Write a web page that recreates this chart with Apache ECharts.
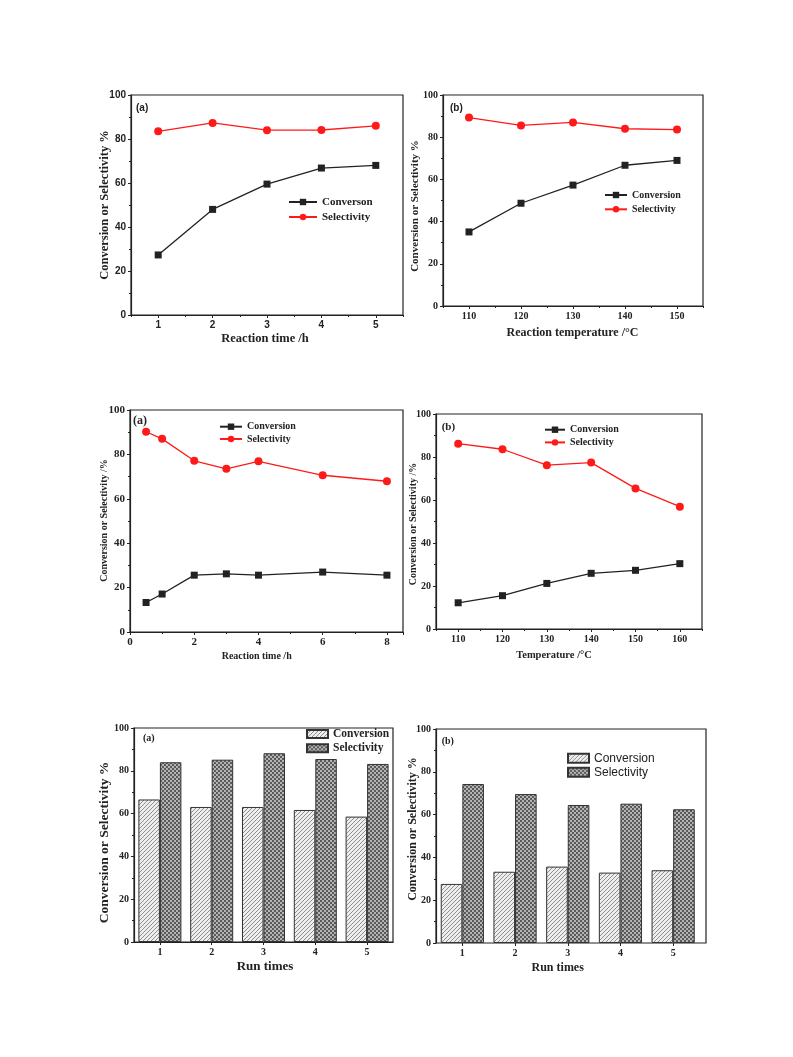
<!DOCTYPE html>
<html><head><meta charset="utf-8">
<script src="https://cdn.jsdelivr.net/npm/echarts@6/dist/echarts.min.js"></script>
<style>html,body{margin:0;padding:0;background:#fff}#c{width:793px;height:1057px}</style>
</head><body><div id="c"></div>
<script>
// ---------- data ----------
const p1Time = ['1', '2', '3', '4', '5'];
const p1Conv = [27.3, 48.0, 59.5, 66.8, 68.0];
const p1Sel = [83.5, 87.3, 84.0, 84.1, 86.0];

const p2Temp = ['110', '120', '130', '140', '150'];
const p2Conv = [35.1, 48.7, 57.3, 66.7, 69.0];
const p2Sel = [89.3, 85.6, 87.0, 84.0, 83.6];

const p3Time = [0.5, 1, 2, 3, 4, 6, 8];
const p3Conv = [13.3, 17.1, 25.6, 26.2, 25.6, 27.0, 25.6];
const p3Sel = [90.2, 87.0, 77.1, 73.5, 76.9, 70.6, 67.9];

const p4Temp = ['110', '120', '130', '140', '150', '160'];
const p4Conv = [12.2, 15.5, 21.2, 25.9, 27.3, 30.4];
const p4Sel = [86.2, 83.6, 76.2, 77.4, 65.4, 56.9];

const runTimes = ['1', '2', '3', '4', '5'];
const p5Conv = [66.6, 63.1, 63.1, 61.7, 58.6];
const p5Sel = [84.0, 85.2, 88.2, 85.5, 83.2];
const p6Conv = [27.6, 33.3, 35.7, 32.9, 34.0];
const p6Sel = [74.3, 69.6, 64.5, 65.1, 62.5];

// ---------- styles ----------
const SERIF = '"Liberation Serif", "Times New Roman", serif';
const SANS = '"Liberation Sans", Arial, sans-serif';
const INK = '#222';
const RED = '#ff1a1a';

function hatchPattern() {
  const c = document.createElement('canvas');
  c.width = 4; c.height = 4;
  const g = c.getContext('2d');
  g.fillStyle = '#eeeeee'; g.fillRect(0, 0, 4, 4);
  g.fillStyle = '#8f8f8f';
  for (let i = 0; i < 4; i++) g.fillRect(3 - i, i, 1, 1);
  return c;
}
function checkPattern() {
  const c = document.createElement('canvas');
  c.width = 4; c.height = 4;
  const g = c.getContext('2d');
  g.fillStyle = '#b4b4b4'; g.fillRect(0, 0, 4, 4);
  g.fillStyle = '#5a5a5a';
  g.fillRect(0, 0, 2, 2); g.fillRect(2, 2, 2, 2);
  return c;
}
const HATCH = { image: hatchPattern(), repeat: 'repeat' };
const CHECK = { image: checkPattern(), repeat: 'repeat' };

const grids = [
  { left: 131, top: 95, width: 272, height: 220 },
  { left: 443, top: 95, width: 260, height: 211 },
  { left: 130, top: 410, width: 273, height: 222 },
  { left: 436, top: 414, width: 266, height: 215 },
  { left: 134, top: 728, width: 259, height: 214 },
  { left: 436, top: 729, width: 263.5, height: 214, show: false },
  { left: 436, top: 729, width: 270, height: 214 }
].map(g => Object.assign({ show: true, borderColor: INK, borderWidth: 1.2, backgroundColor: 'transparent', containLabel: false }, g));

function yAx(gi, font, size) {
  return {
    type: 'value', gridIndex: gi, min: 0, max: 100, interval: 20,
    axisLine: { show: true, lineStyle: { color: INK, width: 1.2 } },
    axisTick: { show: true, length: 3, lineStyle: { color: INK } },
    minorTick: { show: true, splitNumber: 2, length: 2, lineStyle: { color: INK } },
    splitLine: { show: false }, minorSplitLine: { show: false },
    axisLabel: { color: INK, fontFamily: font, fontWeight: 'bold', fontSize: size, margin: 5 }
  };
}
function xCat(gi, cats, font, size, lineShow) {
  return {
    type: 'category', gridIndex: gi, data: cats, boundaryGap: true, position: 'bottom',
    axisLine: { show: lineShow !== false, lineStyle: { color: INK, width: 1.2 } },
    axisTick: { show: true, alignWithLabel: true, length: 3, lineStyle: { color: INK } },
    splitLine: { show: false },
    axisLabel: { color: INK, fontFamily: font, fontWeight: 'bold', fontSize: size, margin: 5 }
  };
}
function xMinor(gi, cats) {
  return {
    type: 'category', gridIndex: gi, data: cats, boundaryGap: true, position: 'bottom',
    axisLine: { show: false }, axisLabel: { show: false }, splitLine: { show: false },
    axisTick: { show: true, alignWithLabel: false, length: 2, lineStyle: { color: INK } }
  };
}

const xAxis = [
  xCat(0, p1Time, SANS, 10),            // 0
  xCat(1, p2Temp, SERIF, 10),           // 1
  {                                     // 2
    type: 'value', gridIndex: 2, min: 0, max: 8.5, interval: 2,
    axisLine: { show: true, lineStyle: { color: INK, width: 1.2 } },
    axisTick: { show: true, length: 3, lineStyle: { color: INK } },
    minorTick: { show: true, splitNumber: 2, length: 2, lineStyle: { color: INK } },
    splitLine: { show: false },
    axisLabel: { color: INK, fontFamily: SERIF, fontWeight: 'bold', fontSize: 11, margin: 5,
      formatter: v => (Math.abs(v % 2) < 1e-9 ? String(v) : '') }
  },
  xCat(3, p4Temp, SERIF, 10),           // 3
  xCat(4, runTimes, SERIF, 10),         // 4
  xCat(5, runTimes, SERIF, 10, false),  // 5
  xMinor(0, p1Time),                    // 6
  xMinor(1, p2Temp),                    // 7
  xMinor(3, p4Temp),                    // 8
  { type: 'value', gridIndex: 6, show: false, min: 0, max: 1 } // 9 frame
];
const yAxis = [
  yAx(0, SANS, 10), yAx(1, SERIF, 10), yAx(2, SERIF, 11), yAx(3, SERIF, 10),
  yAx(4, SERIF, 10), yAx(5, SERIF, 10),
  { type: 'value', gridIndex: 6, show: false, min: 0, max: 1 }
];

function line(name, xi, yi, data, color, symbol, size) {
  return {
    type: 'line', name, xAxisIndex: xi, yAxisIndex: yi, data,
    symbol, symbolSize: size, showSymbol: true,
    lineStyle: { color, width: 1.3 }, itemStyle: { color, borderWidth: 0 },
    emphasis: { disabled: true }, animation: false, z: 3
  };
}
function bar(name, xi, yi, data, pattern, w) {
  return {
    type: 'bar', name, xAxisIndex: xi, yAxisIndex: yi, data,
    barWidth: w, barGap: '0%',
    itemStyle: { color: pattern, borderColor: '#333', borderWidth: 1 },
    emphasis: { disabled: true }, animation: false
  };
}

const series = [
  line('Converson|1', 0, 0, p1Conv, INK, 'rect', 7),
  line('Selectivity|1', 0, 0, p1Sel, RED, 'circle', 8),
  line('Conversion|2', 1, 1, p2Conv, INK, 'rect', 7),
  line('Selectivity|2', 1, 1, p2Sel, RED, 'circle', 8),
  line('Conversion|3', 2, 2, p3Time.map((t, i) => [t, p3Conv[i]]), INK, 'rect', 7),
  line('Selectivity|3', 2, 2, p3Time.map((t, i) => [t, p3Sel[i]]), RED, 'circle', 8),
  line('Conversion|4', 3, 3, p4Conv, INK, 'rect', 7),
  line('Selectivity|4', 3, 3, p4Sel, RED, 'circle', 8),
  bar('Conversion|5', 4, 4, p5Conv, HATCH, 21.5),
  bar('Selectivity|5', 4, 4, p5Sel, CHECK, 21.5),
  bar('Conversion|6', 5, 5, p6Conv, HATCH, 21.6),
  bar('Selectivity|6', 5, 5, p6Sel, CHECK, 21.6)
];

function leg(names, left, top, iw, ih, font, size, weight, lh, gap, icon) {
  const o = {
    orient: 'vertical', left, top, padding: 0, itemGap: gap, itemWidth: iw, itemHeight: ih,
    data: names, selectedMode: false, formatter: n => n.split('|')[0],
    textStyle: { fontFamily: font, fontSize: size, fontWeight: weight, color: INK, lineHeight: lh }
  };
  if (icon) o.icon = icon;
  return o;
}
const legend = [
  leg(['Converson|1', 'Selectivity|1'], 288, 195, 28, 8, SERIF, 11, 'bold', 14, 1),
  leg(['Conversion|2', 'Selectivity|2'], 604, 188.5, 22, 8, SERIF, 10, 'bold', 13, 1.3),
  leg(['Conversion|3', 'Selectivity|3'], 219, 420.7, 22, 8, SERIF, 10, 'bold', 12, 0.3),
  leg(['Conversion|4', 'Selectivity|4'], 544, 423.7, 20, 8, SERIF, 10, 'bold', 12, 0.7),
  leg(['Conversion|5', 'Selectivity|5'], 306, 727, 21, 8, SERIF, 11.5, 'bold', 14, 0.3, 'rect'),
  leg(['Conversion|6', 'Selectivity|6'], 567, 751.3, 21, 9, SANS, 12, 'normal', 14, 0, 'rect')
];

function txt(x, y, text, font, rot, align) {
  return {
    type: 'text', x, y, rotation: rot || 0, silent: true,
    style: { text, font, fill: INK, textAlign: align || 'center', align: align || 'center',
      textVerticalAlign: 'middle', verticalAlign: 'middle' }
  };
}
const R = Math.PI / 2;
const graphic = [
  // panel 1
  txt(136, 108, '(a)', 'bold 10px ' + SANS, 0, 'left'),
  txt(105, 205, 'Conversion or Selectivity %', 'bold 12.5px ' + SERIF, R),
  txt(265, 339, 'Reaction time /h', 'bold 12.5px ' + SERIF),
  // panel 2
  txt(450, 108, '(b)', 'bold 10px ' + SANS, 0, 'left'),
  txt(415, 206, 'Conversion or Selectivity %', 'bold 11px ' + SERIF, R),
  txt(572.5, 333, 'Reaction temperature /°C', 'bold 12px ' + SERIF),
  // panel 3
  txt(133, 421, '(a)', 'bold 12px ' + SERIF, 0, 'left'),
  txt(104, 520.5, 'Conversion or Selectivity /%', 'bold 10px ' + SERIF, R),
  txt(256.7, 656, 'Reaction time /h', 'bold 10px ' + SERIF),
  // panel 4
  txt(441.7, 427, '(b)', 'bold 11px ' + SERIF, 0, 'left'),
  txt(413.3, 524, 'Conversion or Selectivity /%', 'bold 10px ' + SERIF, R),
  txt(554, 655, 'Temperature /°C', 'bold 10.5px ' + SERIF),
  // panel 5
  txt(143, 738, '(a)', 'bold 10px ' + SERIF, 0, 'left'),
  txt(105, 842.5, 'Conversion or Selectivity %', 'bold 13.5px ' + SERIF, R),
  txt(265, 967, 'Run times', 'bold 13px ' + SERIF),
  // panel 6
  txt(441.7, 741.7, '(b)', 'bold 10px ' + SERIF, 0, 'left'),
  txt(413.3, 829, 'Conversion or Selectivity %', 'bold 12px ' + SERIF, R),
  txt(557.7, 968.3, 'Run times', 'bold 12px ' + SERIF)
];

const chart = echarts.init(document.getElementById('c'), null, { renderer: 'canvas' });
chart.setOption({
  animation: false,
  backgroundColor: '#fff',
  grid: grids, xAxis, yAxis, series, legend, graphic,
  tooltip: { show: false }
});
</script>
</body></html>
